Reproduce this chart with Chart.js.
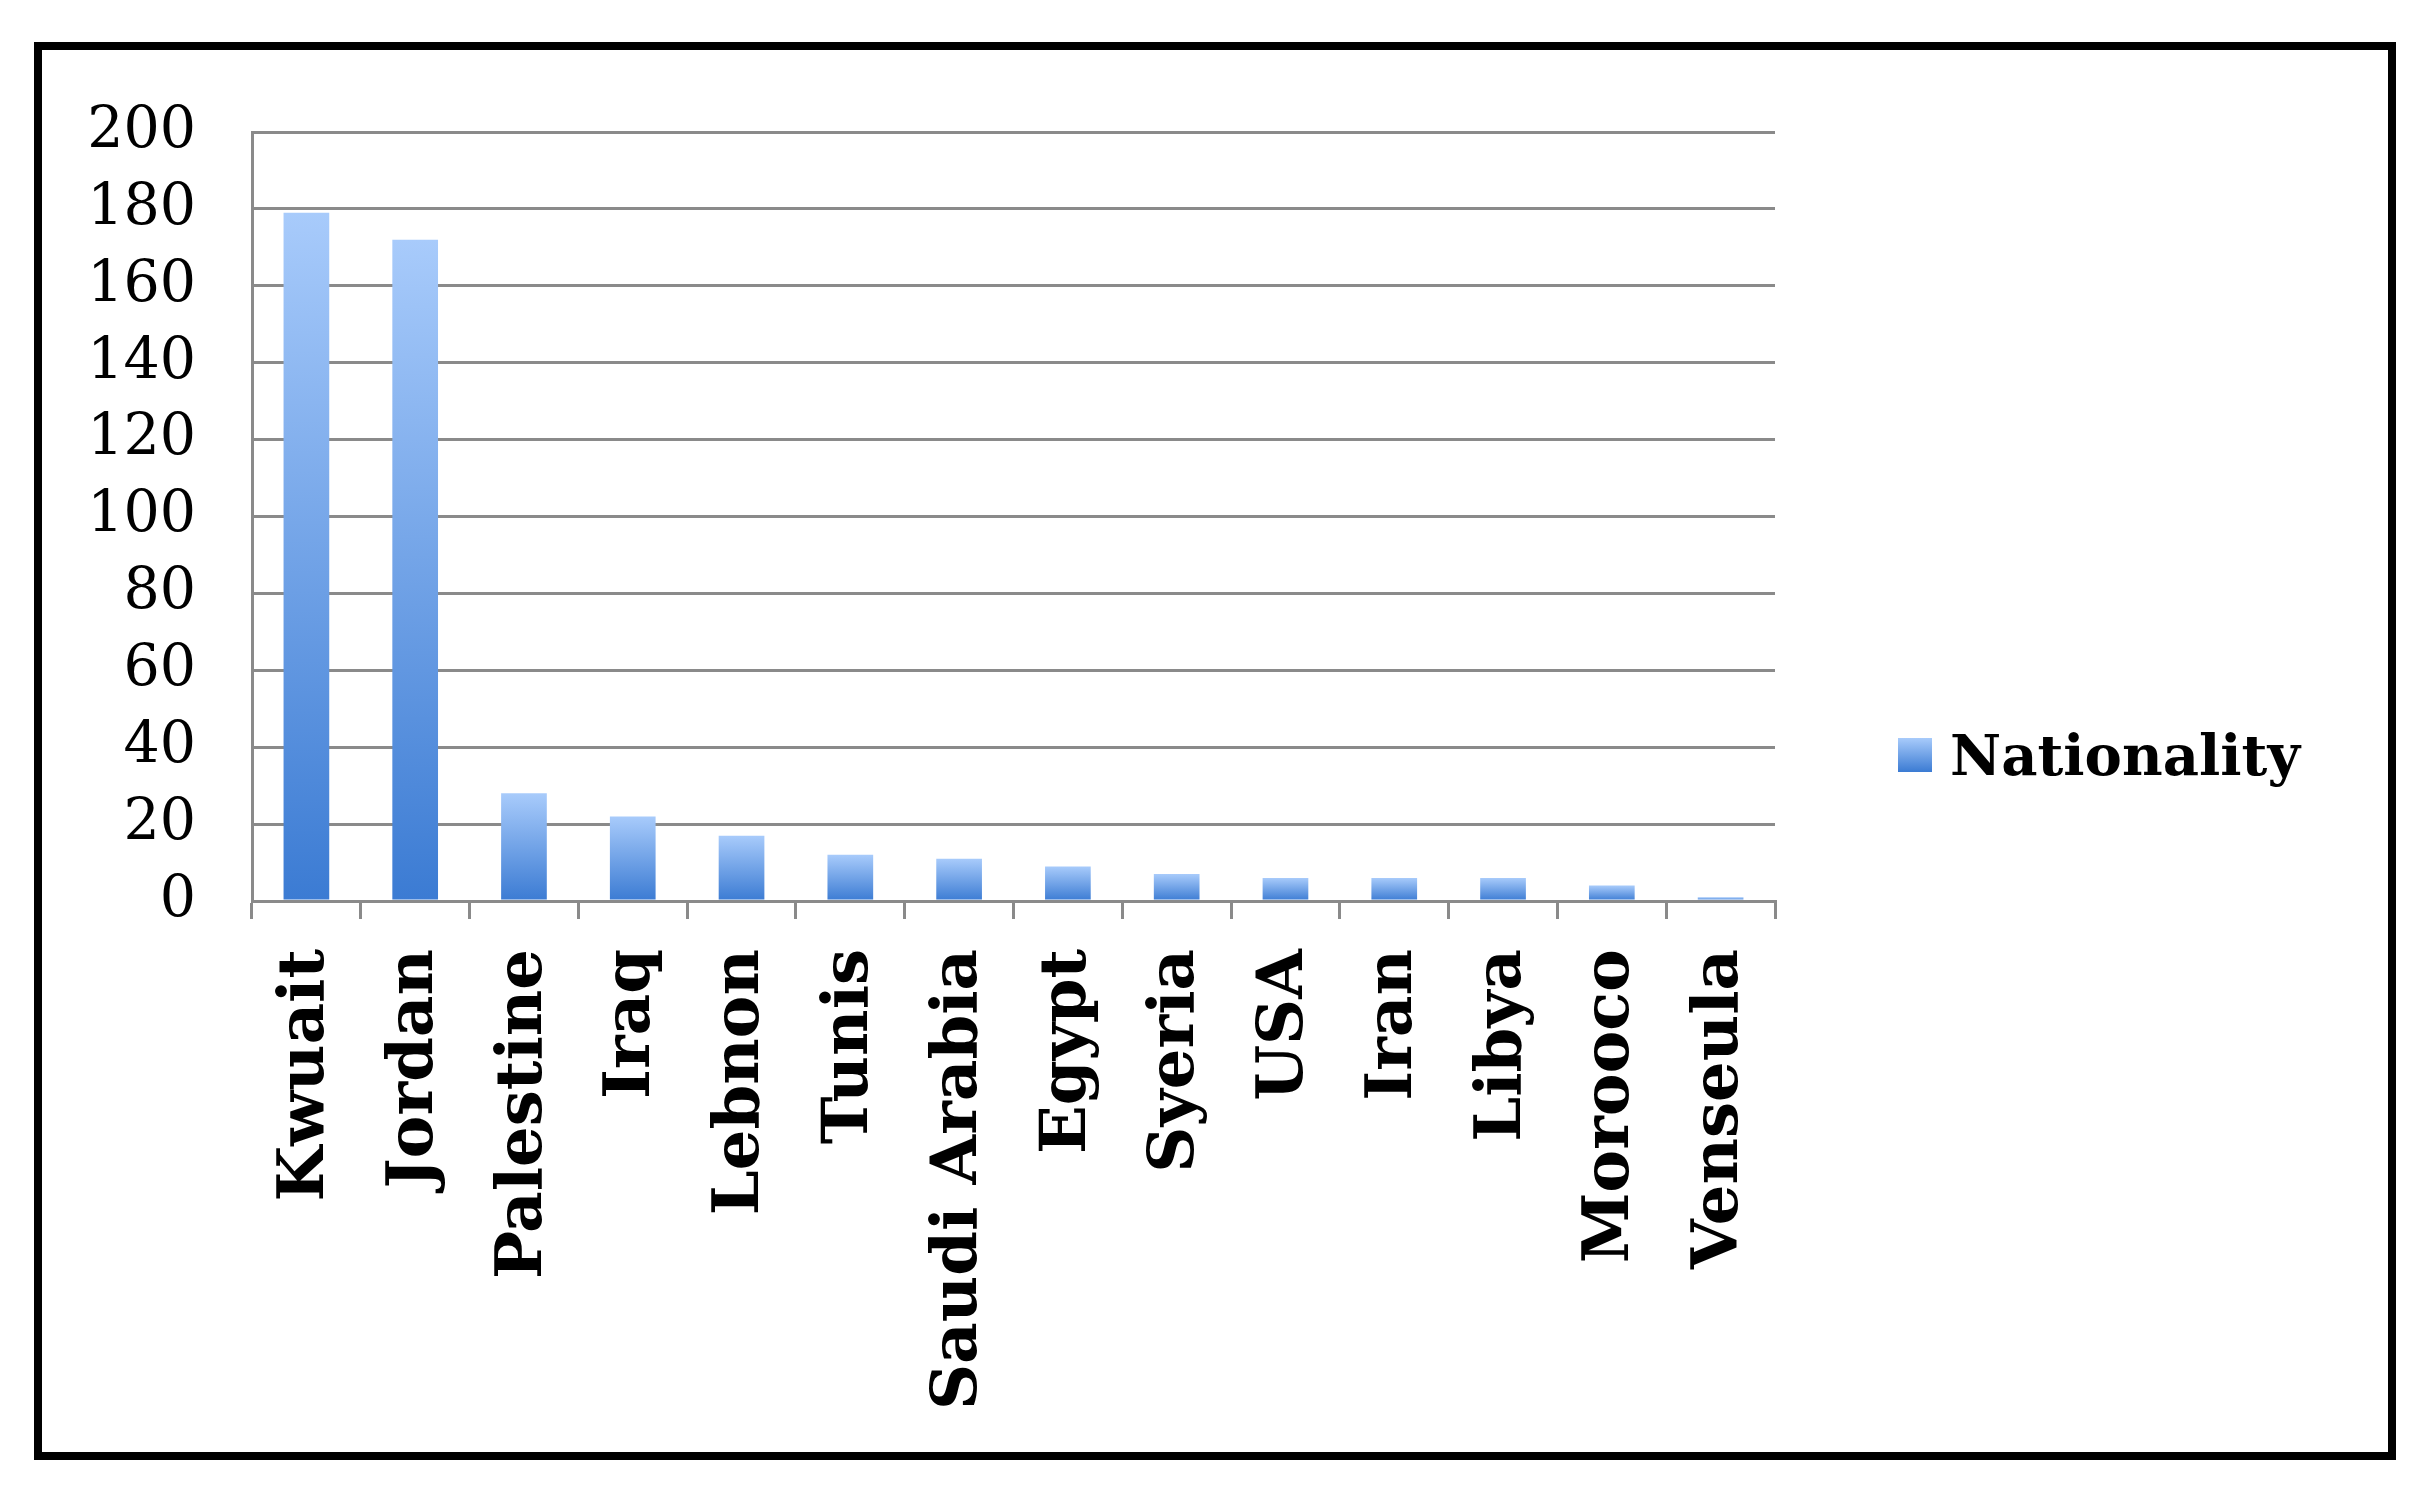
<!DOCTYPE html>
<html><head><meta charset="utf-8">
<script src="https://cdn.jsdelivr.net/npm/chart.js@4"></script>
<style>
body{margin:0;background:#fff;overflow:hidden}
#frame{position:absolute;left:34px;top:42px;width:2346px;height:1402px;border:8px solid #000;pointer-events:none}
canvas{position:absolute;left:0;top:0}
</style></head><body>
<canvas id="c" width="2427" height="1493"></canvas>
<div id="frame"></div>
<script>
const categories=["Kwuait","Jordan","Palestine","Iraq","Lebnon","Tunis","Saudi Arabia","Egypt","Syeria","USA","Iran","Libya","Morooco","Venseula"];
const nationality=[179,172,28,22,17,12,11,9,7,6,6,6,4,1];
const seriesName="Nationality";
const yTicks=[0,20,40,60,80,100,120,140,160,180,200];
const FONT='"DejaVu Serif", "Liberation Serif", serif';
function grad(ctx){
  const ch=ctx.chart, a=ch.chartArea, ys=ch.scales&&ch.scales.y;
  if(!a||!ys||ctx.raw==null) return '#6aa0ea';
  const top=ys.getPixelForValue(ctx.raw);
  const g=ch.ctx.createLinearGradient(0,top,0,a.bottom);
  g.addColorStop(0,'#a8cbfb');g.addColorStop(1,'#3b7bd3');return g;
}
const legendPlugin={id:'lg',afterDraw(ch){
  const c=ch.ctx;c.save();
  const g=c.createLinearGradient(0,738,0,772);g.addColorStop(0,'#a8cbfb');g.addColorStop(1,'#3b7bd3');
  c.fillStyle=g;c.fillRect(1898,738,34,34);
  c.fillStyle='#000';c.font='bold 56px '+FONT;c.textBaseline='middle';c.textAlign='left';
  c.fillText(seriesName,1950,760);c.restore();}};
new Chart(document.getElementById('c'),{
  type:'bar',
  data:{labels:categories,datasets:[{label:seriesName,data:nationality,backgroundColor:grad,barPercentage:0.42,categoryPercentage:1}]},
  options:{responsive:false,devicePixelRatio:1,animation:false,
    layout:{padding:{left:60,top:132,right:652,bottom:0}},
    plugins:{legend:{display:false},tooltip:{enabled:false}},
    scales:{
      y:{min:0,max:200,afterBuildTicks(s){s.ticks=yTicks.map(v=>({value:v}));},
        afterFit(s){s.width=192;},
        grid:{color:'#8a8a8a',lineWidth:3,drawTicks:false},
        border:{color:'#8a8a8a',width:3},
        ticks:{font:{family:FONT,size:57},color:'#000',padding:56}},
      x:{afterFit(s){s.height=592;},
        grid:{offset:true,drawOnChartArea:false,drawTicks:true,tickLength:18,color:'#8a8a8a',lineWidth:3},
        border:{color:'#8a8a8a',width:3},
        ticks:{font:{family:FONT,size:64,weight:'bold'},color:'#000',maxRotation:90,minRotation:90,autoSkip:false,padding:30}}
    }},
  plugins:[legendPlugin]
});
</script></body></html>
